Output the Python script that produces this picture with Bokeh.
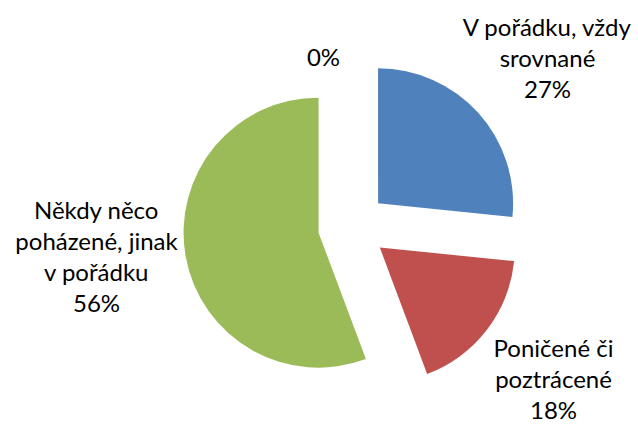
import math
from bokeh.plotting import figure
from bokeh.models import Range1d
from bokeh.embed import file_html
from bokeh.resources import INLINE
from bokeh.core.properties import value

# ---- data ----
categories = ["V pořádku, vždy srovnané", "Poničené či poztrácené",
              "Někdy něco poházené, jinak v pořádku", "Jiné"]
shares = [26.6, 17.7, 55.7, 0.0]
pct_labels = ["27%", "18%", "56%", "0%"]
name_lines = [["V pořádku, vždy", "srovnané"],
              ["Poničené či", "poztrácené"],
              ["Někdy něco", "poházené, jinak", "v pořádku"],
              []]
colors = ["#4F81BD", "#C0504D", "#9BBB59", "#8064A2"]

# ---- layout (image pixel coordinates, y down) ----
IMG_H = 425
W, H = 638, 425
CX, CY = 352, 226        # pie centre
R = 135                  # radius
EXPLODE = 34.5           # explosion distance
BASE_FIX = 11            # renderer places text this much lower than asked
label_anchor = [(547, 37), (553, 358), (96, 220), (323, 67)]  # centre x, first baseline
label_step = [31, 31, 31, 31]
FONT = "Lato"
FSIZE = "24px"

p = figure(width=W, height=H, output_backend="svg", toolbar_location=None,
           x_range=Range1d(0, W), y_range=Range1d(IMG_H - H, IMG_H),
           min_border=0)
p.axis.visible = False
p.grid.visible = False
p.outline_line_color = None
p.background_fill_color = "white"

total = sum(shares)
cum = 0.0
for i, s in enumerate(shares):
    a1 = cum / total * 360.0          # clockwise from top, degrees
    a2 = (cum + s) / total * 360.0
    cum += s
    if s <= 0:
        continue
    mid = math.radians((a1 + a2) / 2)
    cx = CX + EXPLODE * math.sin(mid)
    cy = CY - EXPLODE * math.cos(mid)
    p.wedge(x=[cx], y=[IMG_H - cy], radius=R,
            start_angle=[math.radians(90 - a2)], end_angle=[math.radians(90 - a1)],
            direction="anticlock", fill_color=colors[i], line_color=None)

for i in range(len(categories)):
    lines = name_lines[i] + [pct_labels[i]]
    x0, y0 = label_anchor[i]
    xs = [x0] * len(lines)
    ys = [IMG_H - (y0 - BASE_FIX + k * label_step[i]) for k in range(len(lines))]
    p.text(x=xs, y=ys, text=lines, text_align="center", text_baseline="alphabetic",
           text_font=value(FONT), text_font_size=FSIZE, text_color="#000000")

open("out.html", "w").write(file_html(p, INLINE))
